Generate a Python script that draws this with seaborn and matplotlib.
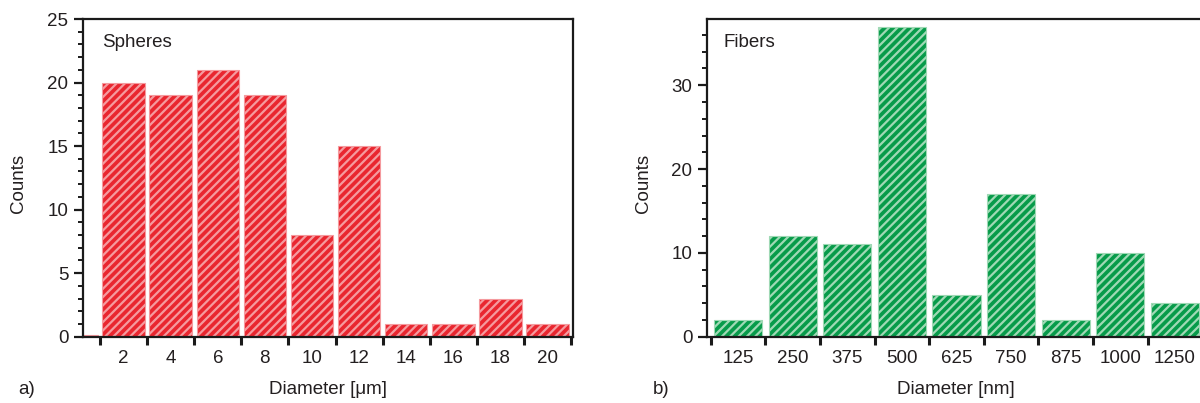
import matplotlib
matplotlib.use("Agg")
import matplotlib.pyplot as plt
import seaborn as sns
import numpy as np
from matplotlib.ticker import MultipleLocator, FixedLocator, NullFormatter, FixedFormatter

# ---- data ----
sphere_diam = [0, 2, 4, 6, 8, 10, 12, 14, 16, 18, 20]
sphere_counts = [0.1, 20, 19, 21, 19, 8, 15, 1, 1, 3, 1]

fiber_labels = ["125", "250", "375", "500", "625", "750", "875", "1000", "1250"]
fiber_counts = [2, 12, 11, 37, 5, 17, 2, 10, 4]

sns.set_theme(style="ticks")
plt.rcParams['font.family'] = ['Liberation Sans', 'DejaVu Sans']
plt.rcParams['hatch.linewidth'] = 1.6
plt.rcParams['hatch.color'] = 'white'

RED = "#E9262F"
GREEN = "#079B4A"
FS = 13.5
TXT = "#231F20"

fig = plt.figure(figsize=(12, 4.03), dpi=100)
W, H = 1200, 403
def pos(l, r, b, t):
    return [l / W, (H - b) / H, (r - l) / W, (b - t) / H]

ax1 = fig.add_axes(pos(83, 573, 336.7, 19))
ax2 = fig.add_axes(pos(707, 1206, 336.7, 19))

HATCH = "////"

# ---- left: spheres ----
sns.barplot(x=sphere_diam, y=sphere_counts, native_scale=True, width=0.9,
            color=RED, saturation=1, ax=ax1, edgecolor="white", linewidth=0.8,
            hatch=HATCH)
for p in ax1.patches:
    p.set_facecolor(RED)
    p.set_edgecolor("#F59A9E")
    p.set_hatch(HATCH)
ax1.set_xlim(0.28, 21.08)
ax1.set_ylim(0, 25)
ax1.xaxis.set_major_locator(FixedLocator(np.arange(1, 22, 2)))
ax1.xaxis.set_major_formatter(NullFormatter())
ax1.xaxis.set_minor_locator(FixedLocator(sphere_diam[1:]))
ax1.xaxis.set_minor_formatter(FixedFormatter([str(v) for v in sphere_diam[1:]]))
ax1.yaxis.set_major_locator(MultipleLocator(5))
ax1.yaxis.set_minor_locator(MultipleLocator(1))
ax1.text(0.04, 0.927, "Spheres", transform=ax1.transAxes, fontsize=FS, va="center", ha="left", color=TXT)
ax1.set_xlabel("")
ax1.set_ylabel("")

# ---- right: fibers ----
sns.barplot(x=fiber_labels, y=fiber_counts, order=fiber_labels, width=0.88,
            color=GREEN, saturation=1, ax=ax2, edgecolor="white", linewidth=0.8,
            hatch=HATCH)
for p in ax2.patches:
    p.set_facecolor(GREEN)
    p.set_edgecolor("#9FD9B5")
    p.set_hatch(HATCH)
ax2.set_xlim(-0.57, 8.57)
ax2.set_ylim(0, 37.9)
ax2.xaxis.set_major_locator(FixedLocator(np.arange(-0.5, 9.0, 1)))
ax2.xaxis.set_major_formatter(NullFormatter())
ax2.xaxis.set_minor_locator(FixedLocator(np.arange(0, 9)))
ax2.xaxis.set_minor_formatter(FixedFormatter(fiber_labels))
ax2.yaxis.set_major_locator(MultipleLocator(10))
ax2.yaxis.set_minor_locator(MultipleLocator(2))
ax2.text(0.034, 0.927, "Fibers", transform=ax2.transAxes, fontsize=FS, va="center", ha="left", color=TXT)
ax2.set_xlabel("")
ax2.set_ylabel("")

for ax in (ax1, ax2):
    for s in ax.spines.values():
        s.set_visible(True)
        s.set_linewidth(1.6)
        s.set_color("#1a1a1a")
    ax.tick_params(axis="y", which="major", direction="out", length=6.5, width=1.6,
                   color="#1a1a1a", labelsize=FS, labelcolor=TXT, pad=4)
    ax.tick_params(axis="y", which="minor", direction="out", length=3.5, width=1.4,
                   color="#1a1a1a")
    ax.tick_params(axis="x", which="major", direction="out", length=6, width=2.2,
                   color="#1a1a1a")
    ax.tick_params(axis="x", which="minor", length=0, labelsize=FS,
                   labelcolor=TXT, pad=9.5)
    ax.grid(False)

# labels
fig.text(18 / W, 1 - 183 / H, "Counts", rotation=90, fontsize=FS, ha="center", va="center", color=TXT)
fig.text(643 / W, 1 - 183 / H, "Counts", rotation=90, fontsize=FS, ha="center", va="center", color=TXT)
fig.text(328 / W, 1 - 390 / H, "Diameter [\u03bcm]", fontsize=FS, ha="center", va="center", color=TXT)
fig.text(956 / W, 1 - 390 / H, "Diameter [nm]", fontsize=FS, ha="center", va="center", color=TXT)
fig.text(18 / W, 1 - 390 / H, "a)", fontsize=FS, ha="left", va="center", color=TXT)
fig.text(653 / W, 1 - 390 / H, "b)", fontsize=FS, ha="left", va="center", color=TXT)

fig.savefig("out.png", dpi=100)
